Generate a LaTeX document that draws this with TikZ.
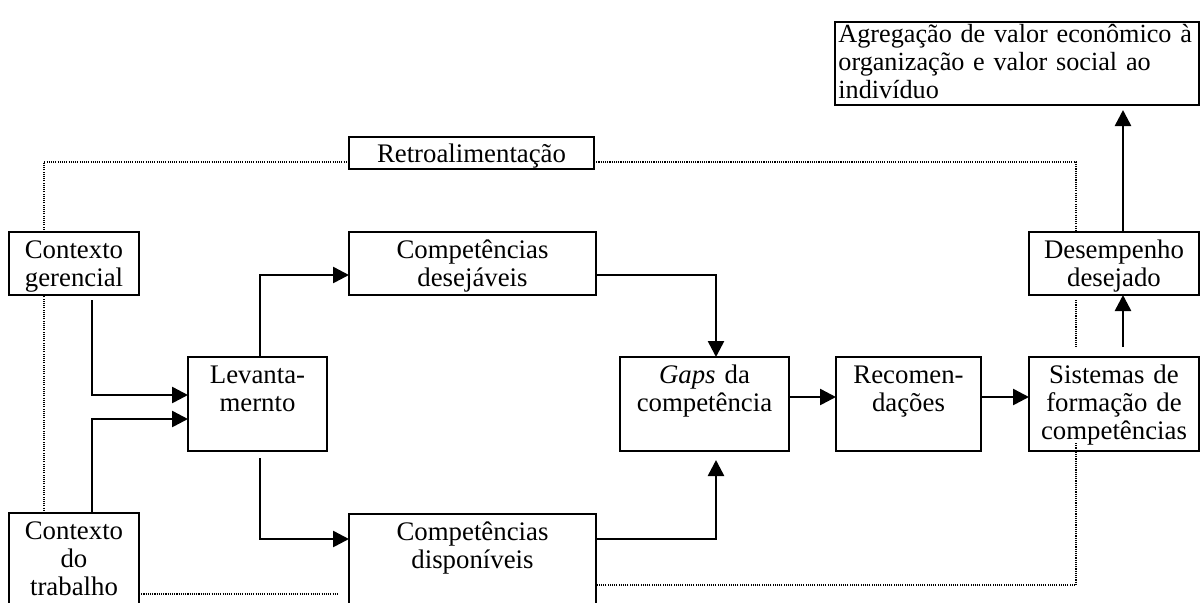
\documentclass[tikz,border=0pt]{standalone}
\usepackage{fontspec}
\setmainfont{Liberation Serif}
\usetikzlibrary{arrows.meta,calc}
\newcommand{\fsz}{\fontsize{13.4}{14}\selectfont}
\newcommand{\fsa}{\fontsize{13.1}{14}\selectfont}
\newcommand{\mkbox}[5]{\node[box, minimum width={(#4-#2)*0.5pt}, minimum height={(#5-#3)*0.5pt}] (#1) at (#2,#3) {};}
\begin{document}
\begin{tikzpicture}[x=0.5pt,y=-0.5pt,
  box/.style={draw, line width=1.3pt, inner sep=0pt, outer sep=0pt, anchor=north west},
  lbl/.style={font=\fsz, inner sep=0pt, text width=#1, align=center, anchor=base},
  flow/.style={line width=1.3pt, -{Triangle[length=8pt,width=8pt]}},
  fb/.style={line width=0.9pt, dash pattern=on 0.55pt off 0.55pt}]
\useasboundingbox (0,0) rectangle (1201,602);
\clip (0,0) rectangle (1201,602);
% boxes
\mkbox{cg}{9}{232}{139}{295}
\mkbox{ct}{9}{513}{139}{640}
\mkbox{lev}{188}{357}{327}{451}
\mkbox{cdes}{349}{232}{596}{295}
\mkbox{cdis}{349}{514}{596}{640}
\mkbox{gap}{620}{357}{789}{451}
\mkbox{rec}{836}{357}{981}{451}
\mkbox{sis}{1029}{357}{1199}{451}
\mkbox{des}{1029}{232}{1199}{295}
\mkbox{agr}{835}{22}{1199}{105}
\mkbox{retro}{349}{137}{594}{169}
% texts
\node[lbl=62pt] (cgt) at ($(cg.north)+(0,26)$) {Contexto\\gerencial};
\node[lbl=62pt] (ctt) at ($(ct.north)+(0,26)$) {Contexto\\do\\trabalho};
\node[lbl=66pt] (levt) at ($(lev.north)+(0,26)$) {Levanta-\\mernto};
\node[lbl=120pt] (cdest) at ($(cdes.north)+(0,26)$) {Competências\\desejáveis};
\node[lbl=120pt] (cdist) at ($(cdis.north)+(0,26)$) {Competências\\disponíveis};
\node[lbl=82pt] (gapt) at ($(gap.north)+(0,26)$) {\textit{Gaps} da\\competência};
\node[lbl=70pt] (rect) at ($(rec.north)+(0,26)$) {Recomen-\\dações};
\node[lbl=84pt] (sist) at ($(sis.north)+(0,26)$) {Sistemas de\\formação de\\competências};
\node[lbl=84pt] (dest) at ($(des.north)+(0,26)$) {Desempenho\\desejado};
\node[lbl=120pt] (retrot) at ($(retro.north)+(0,25)$) {Retroalimentação};
\node[font=\fsa, inner sep=0pt, text width=200pt, align=left, anchor=base west] (agrt) at ($(agr.north west)+(3,20)$) {Agregação de valor econômico à\\organização e valor social ao\\indivíduo};
% solid connectors
\draw[flow] ($(cg.south)+(18,5)$) |- ($(lev.west)+(0,-9)$);
\draw[flow] ($(ct.north)+(18,0)$) |- ($(lev.west)+(0,15)$);
\draw[flow] ($(lev.north)+(2.5,0)$) |- ($(cdes.west)+(0,11.5)$);
\draw[flow] ($(lev.south)+(2.5,7)$) |- ($(cdis.north west)+(0,25)$);
\draw[flow] ($(cdes.east)+(0,11.5)$) -| ($(gap.north)+(11.5,0)$);
\draw[flow] ($(cdis.north east)+(0,25)$) -| ($(gap.south)+(11.5,9)$);
\draw[flow] ($(gap.east)+(0,-7)$) -- ($(rec.west)+(0,-7)$);
\draw[flow] ($(rec.east)+(0,-7)$) -- ($(sis.west)+(0,-7)$);
\draw[flow] ($(sis.north)+(9,-10)$) -- ($(des.south)+(9,0)$);
\draw[flow] ($(des.north)+(9,0)$) -- ($(des.north |- agr.south)+(9,5)$);
% dotted feedback
\draw[fb] ($(ct.north west)+(35,0)$) -- ($(cg.south west)+(35,0)$);
\draw[fb] ($(cg.north west)+(35,0)$) |- ($(retro.west)+(0,9)$);
\draw[fb] ($(retro.east)+(0,9)$) -| ($(des.north west)+(47,0)$);
\draw[fb] ($(des.south west)+(47,5)$) -- ($(sis.north west)+(47,-10)$);
\draw[fb] ($(sis.south west)+(47,-8)$) |- ($(cdis.north east)+(0,71)$);
\draw[fb] ($(ct.north east)+(0,81)$) -- ($(ct.north east -| cdis.west)+(-10,81)$);
\end{tikzpicture}
\end{document}
